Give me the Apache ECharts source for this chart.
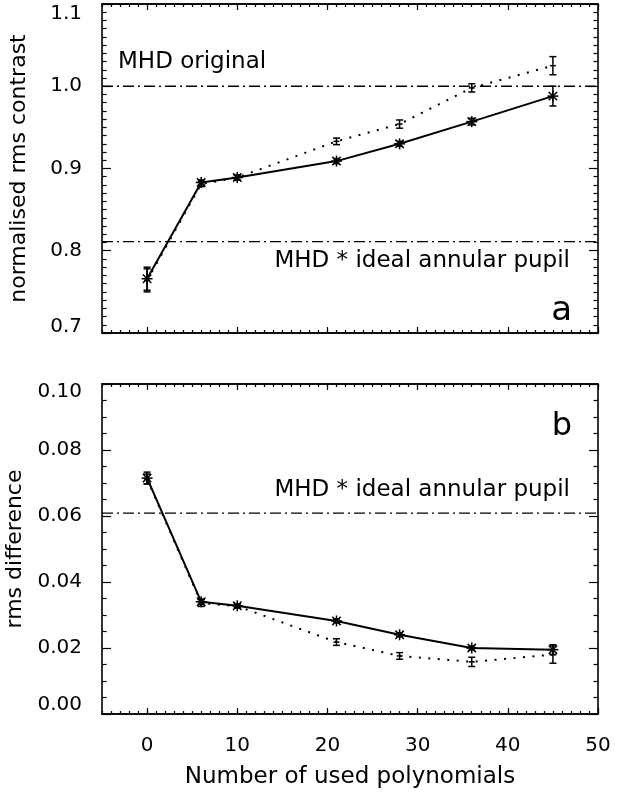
<!DOCTYPE html>
<html>
<head>
<meta charset="utf-8">
<script src="https://cdn.jsdelivr.net/npm/echarts@6/dist/echarts.min.js"></script>
<style>
html,body{margin:0;padding:0;background:#fff;}
#c{width:638px;height:794px;}
</style>
</head>
<body>
<div id="c"></div>
<script>
// ---- data ----
const polyCounts = [0, 6, 10, 21, 28, 36, 45];

const contrastSolid    = [0.766, 0.883, 0.889, 0.909, 0.930, 0.957, 0.988];
const contrastSolidErr = [0.014, 0.003, 0.003, 0.003, 0.003, 0.004, 0.012];
const contrastDotted    = [0.764, 0.881, 0.889, 0.933, 0.954, 0.998, 1.025];
const contrastDottedErr = [0.014, 0.003, 0.003, 0.004, 0.005, 0.005, 0.011];

const diffSolid    = [0.0715, 0.0340, 0.0328, 0.0282, 0.0240, 0.0200, 0.0195];
const diffSolidErr = [0.0018, 0.0008, 0.0006, 0.0006, 0.0006, 0.0006, 0.0015];
const diffDotted    = [0.0712, 0.0336, 0.0327, 0.0218, 0.0176, 0.0158, 0.0180];
const diffDottedErr = [0.0015, 0.0010, 0.0006, 0.0010, 0.0010, 0.0014, 0.0026];

const refContrastOriginal = 1.0;
const refContrastAnnular = 0.811;
const refDiffAnnular = 0.0609;

const xMajorTicks = [0, 10, 20, 30, 40, 50];
const xTickLabels = ['0', '10', '20', '30', '40', '50'];
const xMinorTicks = [];
for (let v = -5; v <= 50; v++) xMinorTicks.push(v);

const topYTickLabels = ['0.7', '0.8', '0.9', '1.0', '1.1'];
const botYTickLabels = ['0.00', '0.02', '0.04', '0.06', '0.08', '0.10'];

// ---- helpers ----
const FONT = 'DejaVu Sans';
const K = '#000';
const LW = 1.6;

function zip3(a, b, c) { return a.map((x, i) => [x, b[i], c[i]]); }
function zip2(a, b) { return a.map((x, i) => [x, b[i]]); }

function errRender(kind) {
  return function (params, api) {
    const x = api.value(0), v = api.value(1), e = api.value(2);
    const c = api.coord([x, v]);
    const t = api.coord([x, v + e]);
    const b = api.coord([x, v - e]);
    const st = { stroke: K, lineWidth: 1.5 };
    const cap = 3.5;
    const L = (x1, y1, x2, y2) => ({ type: 'line', shape: { x1, y1, x2, y2 }, style: st });
    const ch = [
      L(t[0], t[1], b[0], b[1]),
      L(t[0] - cap, t[1], t[0] + cap, t[1]),
      L(b[0] - cap, b[1], b[0] + cap, b[1])
    ];
    if (kind === 'star') {
      const r = 5.5, d = 4.2;
      ch.push(L(c[0], c[1] - r, c[0], c[1] + r));
      ch.push(L(c[0] - r, c[1], c[0] + r, c[1]));
      ch.push(L(c[0] - d, c[1] - d, c[0] + d, c[1] + d));
      ch.push(L(c[0] - d, c[1] + d, c[0] + d, c[1] - d));
    } else {
      ch.push(L(c[0] - 3, c[1], c[0] + 3, c[1]));
    }
    return { type: 'group', children: ch };
  };
}

function xAxesFor(gridIndex, withLabels) {
  const base = {
    gridIndex, type: 'value', min: -5, max: 50,
    axisLine: { show: true, onZero: false, lineStyle: { color: K, width: LW } },
    splitLine: { show: false }
  };
  const major = (pos, labels) => Object.assign({}, base, {
    position: pos,
    axisTick: { show: true, inside: true, length: 6, lineStyle: { color: K, width: 1.2 }, customValues: xMajorTicks },
    axisLabel: labels ? {
      show: true, customValues: xMajorTicks, margin: 22,
      color: K, fontFamily: FONT, fontSize: 20,
      formatter: v => xTickLabels[xMajorTicks.indexOf(v)]
    } : { show: false },
    name: labels ? 'Number of used polynomials' : '',
    nameLocation: 'middle', nameGap: 52,
    nameTextStyle: { color: K, fontFamily: FONT, fontSize: 23 }
  });
  const minor = (pos) => Object.assign({}, base, {
    position: pos,
    axisTick: { show: true, inside: true, length: 3, lineStyle: { color: K, width: 1.2 }, customValues: xMinorTicks },
    axisLabel: { show: false }
  });
  return [major('bottom', withLabels), minor('bottom'), major('top', false), minor('top')];
}

function yAxesFor(gridIndex, min, max, interval, minorSplit, labels, name, lowShift, highShift) {
  const base = {
    gridIndex, type: 'value', min, max, interval,
    axisLine: { show: true, onZero: false, lineStyle: { color: K, width: LW } },
    axisTick: { show: true, inside: true, length: 9, lineStyle: { color: K, width: 1.2 } },
    minorTick: { show: true, splitNumber: minorSplit, length: 4.5, lineStyle: { color: K, width: 1.2 } },
    splitLine: { show: false },
    minorSplitLine: { show: false }
  };
  const n = labels.length;
  return [
    Object.assign({}, base, {
      position: 'left',
      axisLabel: {
        show: true, margin: 20, color: K, fontFamily: FONT, fontSize: 20,
        formatter: v => {
          const i = Math.round((v - min) / interval);
          if (i === 0) return '{lo|' + labels[i] + '}';
          if (i === n - 1) return '{hi|' + labels[i] + '}';
          return labels[i];
        },
        rich: {
          lo: { fontFamily: FONT, fontSize: 20, color: K, padding: [0, 0, lowShift * 2, 0] },
          hi: { fontFamily: FONT, fontSize: 20, color: K, padding: [highShift * 2, 0, 0, 0] }
        }
      },
      name, nameLocation: 'middle', nameGap: 72,
      nameTextStyle: { color: K, fontFamily: FONT, fontSize: 22 }
    }),
    Object.assign({}, base, { position: 'right', axisLabel: { show: false } })
  ];
}

function refLine(xi, yi, v) {
  return {
    type: 'line', xAxisIndex: xi, yAxisIndex: yi, silent: true, symbol: 'none',
    data: [[-5, v], [50, v]],
    lineStyle: { color: K, width: 1.3, type: [11, 4, 2, 4] }, z: 1
  };
}

const chart = echarts.init(document.getElementById('c'), null, { renderer: 'canvas' });

const option = {
  backgroundColor: '#fff',
  animation: false,
  grid: [
    { left: 102, top: 4, width: 496, height: 329, outerBoundsMode: 'none', containLabel: false },
    { left: 102, top: 384, width: 496, height: 330, outerBoundsMode: 'none', containLabel: false }
  ],
  xAxis: [].concat(xAxesFor(0, false), xAxesFor(1, true)),
  yAxis: [].concat(
    yAxesFor(0, 0.7, 1.1, 0.1, 10, topYTickLabels, 'normalised rms contrast', 6, 10),
    yAxesFor(1, 0, 0.1, 0.02, 4, botYTickLabels, 'rms difference', 9, 8)
  ),
  series: [
    refLine(0, 0, refContrastOriginal),
    refLine(0, 0, refContrastAnnular),
    refLine(4, 2, refDiffAnnular),
    {
      type: 'line', xAxisIndex: 0, yAxisIndex: 0, symbol: 'none', silent: true,
      data: zip2(polyCounts, contrastDotted),
      lineStyle: { color: K, width: 2, type: [2, 7.5] }, z: 2
    },
    {
      type: 'line', xAxisIndex: 0, yAxisIndex: 0, symbol: 'none', silent: true,
      data: zip2(polyCounts, contrastSolid),
      lineStyle: { color: K, width: 2 }, z: 3
    },
    {
      type: 'custom', xAxisIndex: 0, yAxisIndex: 0, silent: true,
      renderItem: errRender('dot'), data: zip3(polyCounts, contrastDotted, contrastDottedErr), z: 4
    },
    {
      type: 'custom', xAxisIndex: 0, yAxisIndex: 0, silent: true,
      renderItem: errRender('star'), data: zip3(polyCounts, contrastSolid, contrastSolidErr), z: 5
    },
    {
      type: 'line', xAxisIndex: 4, yAxisIndex: 2, symbol: 'none', silent: true,
      data: zip2(polyCounts, diffDotted),
      lineStyle: { color: K, width: 2, type: [2, 7.5] }, z: 2
    },
    {
      type: 'line', xAxisIndex: 4, yAxisIndex: 2, symbol: 'none', silent: true,
      data: zip2(polyCounts, diffSolid),
      lineStyle: { color: K, width: 2 }, z: 3
    },
    {
      type: 'custom', xAxisIndex: 4, yAxisIndex: 2, silent: true,
      renderItem: errRender('dot'), data: zip3(polyCounts, diffDotted, diffDottedErr), z: 4
    },
    {
      type: 'custom', xAxisIndex: 4, yAxisIndex: 2, silent: true,
      renderItem: errRender('star'), data: zip3(polyCounts, diffSolid, diffSolidErr), z: 5
    }
  ],
  graphic: [
    { type: 'text', left: 118, top: 51, style: { text: 'MHD original', fill: K, font: '23px "DejaVu Sans"' } },
    { type: 'text', right: 68, top: 250, style: { text: 'MHD * ideal annular pupil', fill: K, font: '23px "DejaVu Sans"' } },
    { type: 'text', right: 66, top: 294, style: { text: 'a', fill: K, font: '34px "DejaVu Sans"' } },
    { type: 'text', right: 66, top: 411, style: { text: 'b', fill: K, font: '32px "DejaVu Sans"' } },
    { type: 'text', right: 68, top: 479, style: { text: 'MHD * ideal annular pupil', fill: K, font: '23px "DejaVu Sans"' } }
  ]
};
chart.setOption(option);
</script>
</body>
</html>
